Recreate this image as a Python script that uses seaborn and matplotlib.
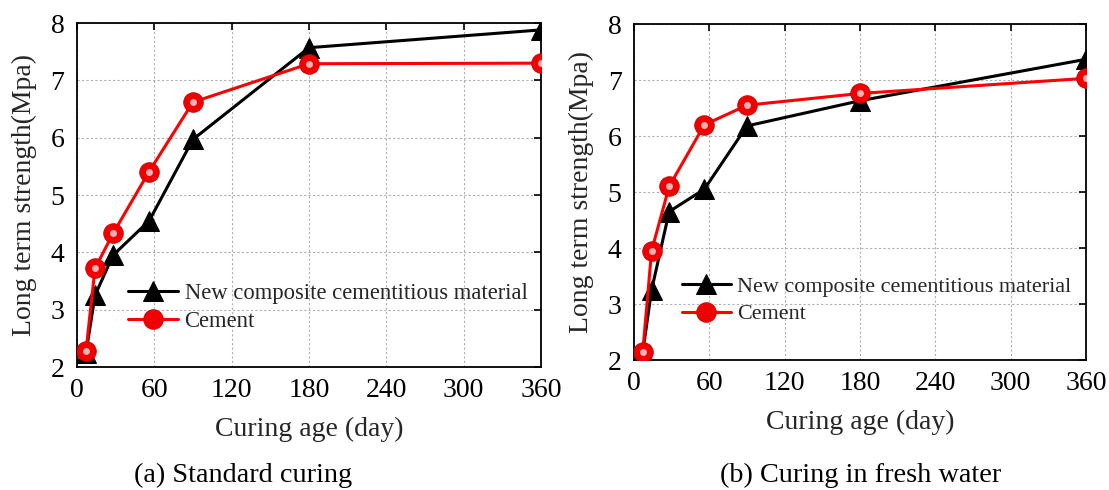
import matplotlib
matplotlib.use("Agg")
import matplotlib.pyplot as plt
import seaborn as sns
import numpy as np

sns.set_theme(style="white")
plt.rcParams['font.family'] = ['Liberation Serif', 'DejaVu Serif']
plt.rcParams['mathtext.fontset'] = 'stix'

days = [7, 14, 28, 56, 90, 180, 360]
ncc_standard = [2.25, 3.25, 3.95, 4.55, 5.97, 7.57, 7.88]
cement_standard = [2.28, 3.72, 4.33, 5.41, 6.62, 7.29, 7.30]
ncc_water = [2.15, 3.25, 4.65, 5.05, 6.18, 6.63, 7.37]
cement_water = [2.15, 3.95, 5.10, 6.20, 6.55, 6.76, 7.03]

labels = ["New composite cementitious material", "Cement"]
captions = ["(a) Standard curing", "(b) Curing in fresh water"]
xticks = [0, 60, 120, 180, 240, 300, 360]
yticks = [2, 3, 4, 5, 6, 7, 8]

fig = plt.figure(figsize=(11.09, 4.90), dpi=100)
ax1 = fig.add_axes([0.0694, 0.251, 0.4184, 0.702])
ax2 = fig.add_axes([0.5717, 0.2653, 0.4076, 0.6857])

panels = [(ax1, ncc_standard, cement_standard, captions[0], (0.11, 0.174), 0.219, 16.3),
          (ax2, ncc_water, cement_water, captions[1], (0.106, 0.177), 0.776, 15.9)]

for ax, ncc, cem, cap, legpos, capx, lfs in panels:
    sns.lineplot(x=days, y=ncc, ax=ax, color='black', linewidth=2.2,
                 marker='^', markersize=15, markerfacecolor='black',
                 markeredgecolor='black', label=labels[0], zorder=3)
    sns.lineplot(x=days, y=cem, ax=ax, color='#ff0000', linewidth=2.2,
                 marker='o', markersize=14, markerfacecolor='#f00000',
                 markeredgecolor='#d80000', label=labels[1], zorder=4)
    # sphere highlight
    ax.plot(days, cem, linestyle='none', marker='o', markersize=5,
            markerfacecolor='#ffb0b0', markeredgecolor='none', zorder=5)
    ax.set_xlim(0, 360)
    ax.set_ylim(2, 8)
    ax.set_xticks(xticks)
    ax.set_yticks(yticks)
    ax.grid(True, linestyle=(0, (2, 2)), color='#b0b0b0', linewidth=0.8)
    ax.tick_params(direction='in', length=5, width=1.2, top=True, right=True,
                   labelsize=20, colors='black')
    ax.tick_params(axis='x', pad=8)
    ax.tick_params(axis='y', pad=9)
    for s in ax.spines.values():
        s.set_color('black')
        s.set_linewidth(1.3)
    ax.set_xlabel("Curing age (day)", fontsize=20, labelpad=10)
    ax.set_ylabel("Long term strength(Mpa)", fontsize=20, labelpad=10)
    leg = ax.legend(loc='center left', bbox_to_anchor=legpos, frameon=False,
                    fontsize=lfs, handlelength=2.2, handletextpad=0.3,
                    labelspacing=0.3, borderaxespad=0, borderpad=0)
    fig.text(capx, 0.029, cap, ha='center', va='center',
             fontsize=20.3, color='black')

fig.savefig("out.png", dpi=100, facecolor='white')
